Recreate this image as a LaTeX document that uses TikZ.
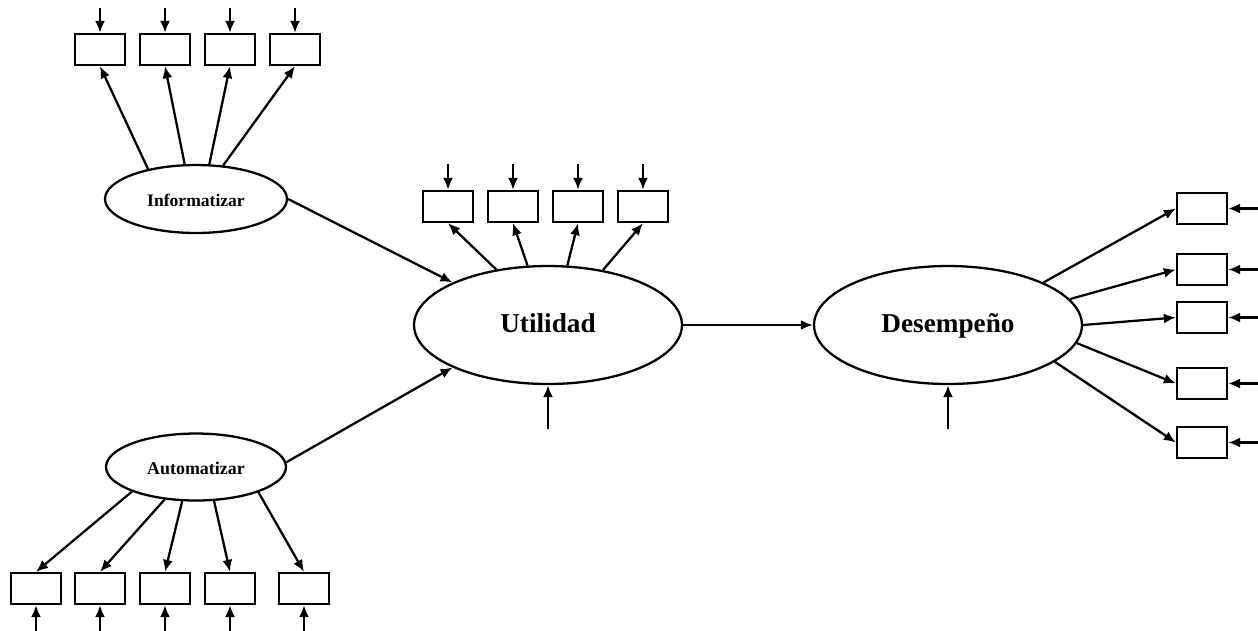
\documentclass[tikz,border=0pt]{standalone}
\usepackage{fontspec}
\setmainfont{Liberation Serif}
\usetikzlibrary{arrows.meta,shapes.geometric}
\tikzset{
  latent/.style = {draw, ellipse, inner sep = 0pt, line width = 1.3pt, text height = 0.85em, text depth = 0.05em},
  manifest/.style = {draw, rectangle, inner sep = 0pt, minimum width = 1cm, minimum height = 0.62cm, line width = 1.3pt},
  path/.style = {line width = 1.3pt, -{Latex[length=2.4mm,width=2mm]}}
}
\begin{document}
\begin{tikzpicture}[x=0.02cm,y=-0.02cm]
\useasboundingbox (0,0) rectangle (1258,630);
\node[latent, minimum width = 3.64cm, minimum height = 1.36cm, font = \bfseries\fontsize{10}{12}\selectfont] (inf) at (196,199) {Informatizar};
\node[latent, minimum width = 3.6cm, minimum height = 1.34cm, font = \bfseries\fontsize{10.2}{12}\selectfont] (auto) at (196,467) {Automatizar};
\node[latent, minimum width = 5.36cm, minimum height = 2.36cm, font = \bfseries\fontsize{15.5}{18}\selectfont] (util) at (548,325) {Utilidad};
\node[latent, minimum width = 5.36cm, minimum height = 2.36cm, font = \bfseries\fontsize{15.5}{18}\selectfont] (des) at (948,325) {Desempeño};
\foreach \x/\a [count=\i] in {100/148, 165/108, 230/69, 295/51} {
  \node[manifest] (inf\i) at (\x,49.5) {};
  \draw[path] (inf.\a) -- (inf\i.south);
  \draw[path] (inf\i.north) +(0,-25) -- (inf\i.north);
}
\foreach \x/\a [count=\i] in {448/133, 513/109, 578/72, 643/45} {
  \node[manifest] (util\i) at (\x,206.5) {};
  \draw[path] (util.\a) -- (util\i.south);
  \draw[path] (util\i.north) +(0,-26) -- (util\i.north);
}
\foreach \y/\a [count=\i] in {208.5/24, 269.5/12.5, 317.5/0, 383.5/-8, 442.5/-19} {
  \node[manifest] (des\i) at (1202,\y) {};
  \draw[path] (des.\a) -- (des\i.west);
  \draw[path] (des\i.east) +(31,0) -- (des\i.east);
}
\foreach \x/\a [count=\i] in {36/201.5, 100/226, 165/248, 230/298.5, 304/338} {
  \node[manifest] (auto\i) at (\x,588.5) {};
  \draw[path] (auto.\a) -- (auto\i.north);
  \draw[path] (auto\i.south) +(0,26) -- (auto\i.south);
}
\draw[path] (inf.0) -- (util.156);
\draw[path] (auto.3) -- (util.204);
\draw[path] (util.east) -- (des.west);
\draw[path] (util.south) +(0,44) -- (util.south);
\draw[path] (des.south) +(0,44) -- (des.south);
\end{tikzpicture}
\end{document}
